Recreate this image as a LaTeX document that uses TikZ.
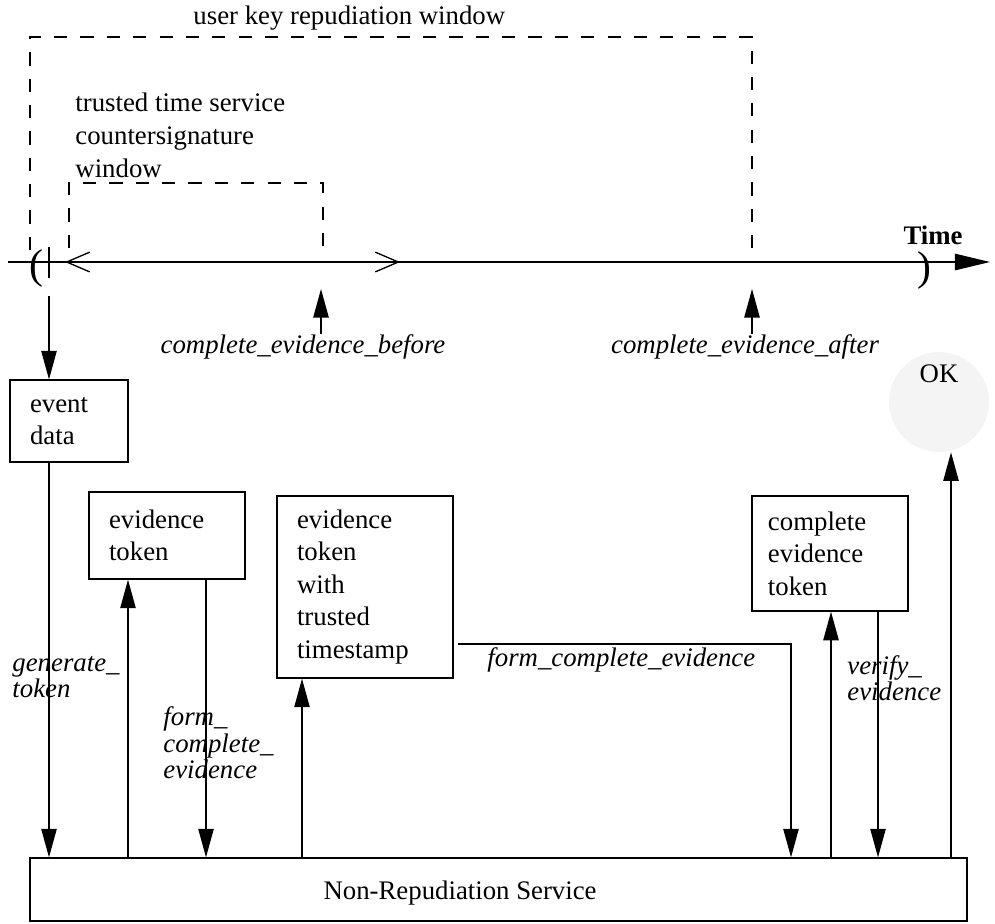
\documentclass[tikz,border=0pt]{standalone}
\usepackage{fontspec}
\setmainfont{Liberation Serif}
\usetikzlibrary{arrows.meta}
\definecolor{okgray}{HTML}{F4F4F4}

\begin{document}
\begin{tikzpicture}[
    x=0.016cm, y=-0.016cm,
    nrsLine/.style={line width=0.6pt},
    nrsFlow/.style={nrsLine, -{Triangle[length=13pt,width=7pt]}},
    nrsWindow/.style={nrsLine, dash pattern=on 6pt off 6pt},
    nrsBox/.style={draw, nrsLine, align=left, inner sep=0pt,
        font=\fontsize{12.2}{14.8}\selectfont},
    nrsText/.style={font=\fontsize{12.2}{15}\selectfont, align=left, inner sep=0pt},
    nrsLabel/.style={font=\fontsize{12.2}{10.6}\selectfont\itshape, align=left, inner sep=0pt},
    nrsParen/.style={font=\fontsize{19}{19}\selectfont, inner sep=0pt}
]
    \useasboundingbox (0,0) rectangle (995,923);

    % time axis
    \coordinate (tstart) at (8,262);
    \coordinate (tend) at (990,262);
    \draw[nrsLine, -{Triangle[length=16pt,width=7.5pt]}] (tstart) -- (tend);
    \node[font=\bfseries\fontsize{12.2}{14}\selectfont, inner sep=0pt] (timelbl) at (933,235) {Time};
    \node[nrsParen] (lparen) at (36.5,268) {(};
    \node[nrsParen] (rparen) at (924,270) {)};
    \draw[nrsLine] (49,247) -- (49,278);

    % windows
    \draw[nrsWindow] (30,250) |- (752,37) -- (752,250);
    \node[nrsText, anchor=west] (userwin) at (193,18) {user key repudiation window};
    \draw[nrsWindow] (69,248) |- (323,183) -- (323,248);
    \node[nrsText, anchor=west] (tsawin) at (75,135) {trusted time service\\countersignature\\window};
    \draw[nrsLine, {Straight Barb[length=10.5pt,width=9pt]}-{Straight Barb[length=10.5pt,width=9pt]}]
        (65,262) -- (400,262);

    % instants
    \node[nrsLabel] (cebefore) at (303,347) {complete\_evidence\_before};
    \node[nrsLabel] (ceafter) at (745,347) {complete\_evidence\_after};
    \draw[nrsFlow] (cebefore.north -| 321,0) -- (321,289);
    \draw[nrsFlow] (ceafter.north -| 752,0) -- (752,289);

    % boxes
    \node[nrsBox, minimum width=53.7pt, minimum height=37.3pt, text width=35.5pt]
        (evdata) at (69,421) {event\\data};
    \node[nrsBox, minimum width=71pt, minimum height=39.6pt, text width=52.8pt]
        (evtoken) at (167,535.5) {evidence\\token};
    \node[nrsBox, minimum width=80.1pt, minimum height=82.9pt, text width=61.9pt]
        (tstoken) at (365,587) {evidence\\token\\with\\trusted\\timestamp};
    \node[nrsBox, minimum width=71pt, minimum height=52.4pt, text width=56.5pt]
        (cmptoken) at (830,553.5) {complete\\evidence\\token};
    \node[circle, fill=okgray, minimum size=45.5pt, inner sep=0pt,
        label={[nrsText, yshift=12.7pt]center:OK}] (ok) at (939,402) {};
    \node[draw, nrsLine, minimum width=426.6pt, minimum height=28.7pt,
        label={[nrsText, xshift=-17.5pt, yshift=-1.6pt]center:Non-Repudiation Service}]
        (nrs) at (498.5,889.5) {};

    % flows
    \coordinate (evsrc) at (49,296);
    \draw[nrsFlow] (evsrc) -- (evsrc |- evdata.north);
    \draw[nrsFlow] (evdata.south -| evsrc) -- (nrs.north -| evsrc);
    \node[nrsLabel, anchor=west] (gentok) at (12,677) {generate\_\\token};
    \draw[nrsFlow] (nrs.north -| 128,0) -- (evtoken.south -| 128,0);
    \draw[nrsFlow] (evtoken.south -| 206,0) -- (nrs.north -| 206,0);
    \node[nrsLabel, anchor=west] (formce) at (163,743) {form\_\\complete\_\\evidence};
    \draw[nrsFlow] (nrs.north -| 302,0) -- (tstoken.south -| 302,0);
    \coordinate (fcsrc) at (458,644);
    \draw[nrsFlow] (fcsrc) -| (nrs.north -| 791,0);
    \node[nrsLabel, anchor=west] (formcelong) at (487,660) {form\_complete\_evidence};
    \draw[nrsFlow] (nrs.north -| 831,0) -- (cmptoken.south -| 831,0);
    \draw[nrsFlow] (cmptoken.south -| 878,0) -- (nrs.north -| 878,0);
    \node[nrsLabel, anchor=west] (verev) at (847,678) {verify\_\\evidence};
    \draw[nrsFlow] (nrs.north -| 951,0) -- (ok.south -| 951,0);
\end{tikzpicture}
\end{document}
